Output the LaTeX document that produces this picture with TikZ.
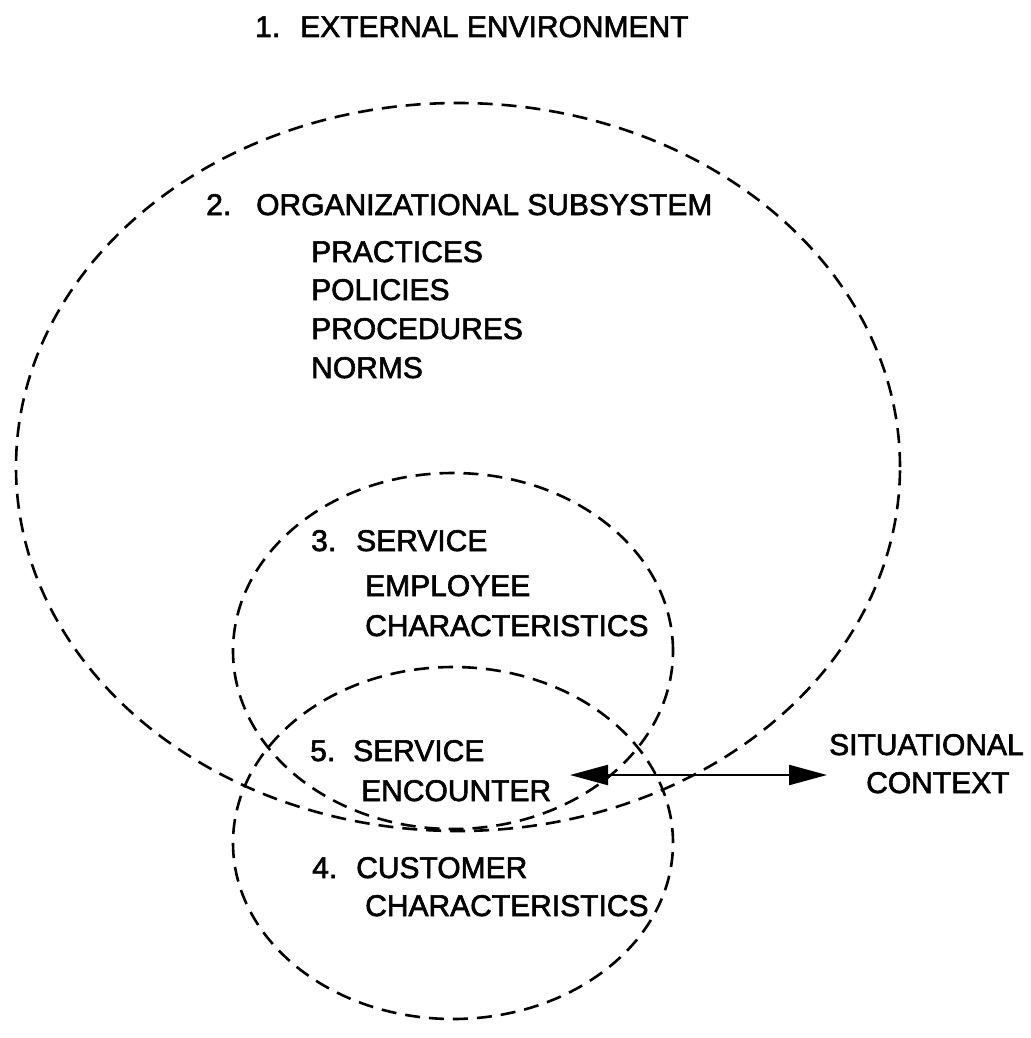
\documentclass[tikz,border=0pt]{standalone}
\usepackage{fontspec}
\setmainfont{Liberation Sans}[FakeBold=2]
\usetikzlibrary{arrows.meta,shapes.geometric}
\begin{document}
\begin{tikzpicture}[x=1pt,y=-1pt,
  lbl/.style={anchor=base west,inner sep=0pt,font=\fontsize{30}{36}\selectfont},
  dashring/.style={draw,ellipse,dash pattern=on 15pt off 9pt,line width=2.6pt,inner sep=0pt},
  link/.style={line width=2.2pt,{Triangle[length=38pt,width=20pt]}-{Triangle[length=38pt,width=20pt]}}]
\useasboundingbox (0,0) rectangle (1030,1038);
% ellipses
\node[dashring,minimum width=884pt,minimum height=728pt] (org) at (458,467) {};
\node[dashring,minimum width=440pt,minimum height=356pt] (emp) at (453,651) {};
\node[dashring,minimum width=440pt,minimum height=352pt] (cus) at (453,843) {};
% texts
\node[lbl] (n1) at (255,37) {1.};
\node[lbl] (t1) at (300,37) {EXTERNAL ENVIRONMENT};
\node[lbl] (n2) at (206,215) {2.};
\node[lbl] (t2) at (256,215) {ORGANIZATIONAL SUBSYSTEM};
\node[lbl] (p1) at (311,262) {PRACTICES};
\node[lbl] (p2) at (311,300) {POLICIES};
\node[lbl] (p3) at (311,339) {PROCEDURES};
\node[lbl] (p4) at (311,378) {NORMS};
\node[lbl] (n3) at (311,551) {3.};
\node[lbl] (t3a) at (356,551) {SERVICE};
\node[lbl] (t3b) at (365,596) {EMPLOYEE};
\node[lbl] (t3c) at (365,636) {CHARACTERISTICS};
\node[lbl] (n5) at (310,761) {5.};
\node[lbl] (t5a) at (353,761) {SERVICE};
\node[lbl] (t5b) at (361,801) {ENCOUNTER};
\node[lbl] (n4) at (312,878) {4.};
\node[lbl] (t4a) at (356,878) {CUSTOMER};
\node[lbl] (t4b) at (365,916) {CHARACTERISTICS};
\node[lbl] (s1) at (829,755) {SITUATIONAL};
\node[lbl] (s2) at (866,793) {CONTEXT};
% arrow
\coordinate (aL) at (570,775);
\coordinate (aR) at (827,775);
\draw[link] (aL) -- (aR);
\end{tikzpicture}
\end{document}
